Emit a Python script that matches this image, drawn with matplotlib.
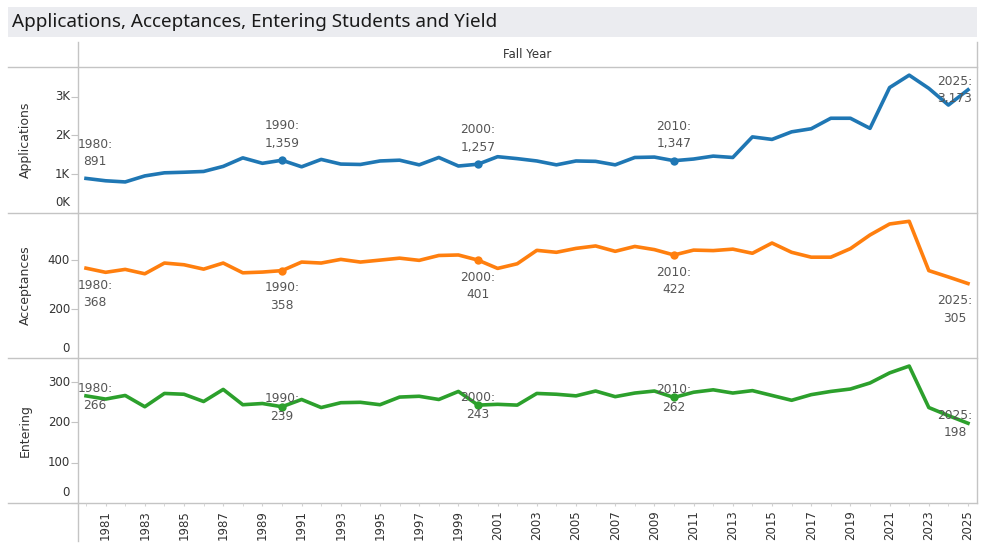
import matplotlib
matplotlib.use("Agg")
import matplotlib.pyplot as plt
from matplotlib.patches import Rectangle

plt.rcParams['font.family'] = ['DejaVu Sans']

# Fall years and the three series
years = list(range(1980, 2026))
applications = [891, 830, 800, 955, 1035, 1050, 1070, 1200, 1420, 1280,
                1359, 1190, 1380, 1260, 1250, 1340, 1360, 1240, 1430, 1210,
                1257, 1450, 1400, 1340, 1240, 1340, 1330, 1240, 1430, 1440,
                1347, 1390, 1465, 1430, 1960, 1895, 2090, 2170, 2440, 2440,
                2180, 3230, 3550, 3210, 2780, 3173]
acceptances = [368, 351, 363, 345, 389, 382, 364, 389, 349, 352,
               358, 393, 389, 404, 393, 401, 409, 400, 420, 422,
               401, 367, 386, 441, 433, 449, 459, 437, 457, 444,
               422, 442, 440, 446, 429, 471, 433, 413, 413, 448,
               504, 549, 560, 358, 332, 305]
entering = [266, 258, 267, 239, 272, 270, 252, 282, 244, 247,
            239, 257, 237, 249, 250, 244, 263, 265, 257, 277,
            243, 245, 243, 272, 270, 266, 278, 264, 273, 278,
            262, 275, 281, 273, 279, 267, 255, 269, 277, 283,
            298, 323, 340, 237, 217, 198]

labeled_years = [1980, 1990, 2000, 2010, 2025]
marker_years = [1990, 2000, 2010]
xtick_years = list(range(1981, 2026, 2))

panels = [
    dict(name="Applications", values=applications, color="#1f77b4",
         ymax=3760, ticks=[0, 1000, 2000, 3000], ticklabels=["0K", "1K", "2K", "3K"],
         top=67, bottom=213, dy=25.5),
    dict(name="Acceptances", values=acceptances, color="#ff7f0e",
         ymax=594, ticks=[0, 200, 400], ticklabels=["0", "200", "400"],
         top=213, bottom=358, dy=-26),
    dict(name="Entering", values=entering, color="#2ca02c",
         ymax=360, ticks=[0, 100, 200, 300], ticklabels=["0", "100", "200", "300"],
         top=358, bottom=503, dy=-1),
]

W, H = 981, 550
fig = plt.figure(figsize=(W / 100, H / 100), dpi=100)

# frame / header drawn in pixel space
bg = fig.add_axes([0, 0, 1, 1], zorder=0)
bg.set_xlim(0, W)
bg.set_ylim(H, 0)
bg.axis("off")
bg.add_patch(Rectangle((8, 7), 969, 30, color="#ebecf0", lw=0))
bg.text(12, 22, "Applications, Acceptances, Entering Students and Yield",
        fontsize=13.6, color="#1a1a1a", va="center", ha="left", family="Noto Sans")
bg.text(527, 55, "Fall Year", fontsize=8.5, color="#333333", ha="center", va="center")
line_col = "#c4c4c4"
bg.plot([78, 78], [42, 541], color=line_col, lw=1)
bg.plot([977, 977], [42, 503], color=line_col, lw=1)
for yy in [67, 213, 358, 503]:
    bg.plot([8, 977], [yy, yy], color=line_col, lw=1)

x0, x1 = 78, 977
px_per_year = (968 - 86) / 45
xlim = (1980 - (86 - x0) / px_per_year, 2025 + (x1 - 968) / px_per_year)

for i, p in enumerate(panels):
    ax = fig.add_axes([x0 / W, 1 - p["bottom"] / H, (x1 - x0) / W, (p["bottom"] - p["top"]) / H],
                      zorder=1)
    ax.set_facecolor("none")
    for s in ax.spines.values():
        s.set_visible(False)
    ax.plot(years, p["values"], color=p["color"], lw=2.6, solid_joinstyle="round")
    mv = [p["values"][years.index(y)] for y in marker_years]
    ax.plot(marker_years, mv, "o", color=p["color"], ms=6, mec="none")
    ax.set_xlim(*xlim)
    ax.set_ylim(0, p["ymax"])
    ax.set_yticks(p["ticks"])
    ax.tick_params(axis="y", length=5, color=line_col, labelleft=False)
    for t, lab in zip(p["ticks"], p["ticklabels"]):
        ax.annotate(lab, xy=(0, t), xycoords=("axes fraction", "data"),
                    xytext=(-8, 10 if t == 0 else 0), textcoords="offset pixels",
                    ha="right", va="center", fontsize=8.5, color="#333333")
    ax.set_xticks(xtick_years)
    ax.set_xticks(years, minor=True)
    if i == 2:
        ax.tick_params(axis="x", which="both", length=2, color="#d0d0d0", pad=3)
        ax.set_xticklabels([str(y) for y in xtick_years], rotation=90, fontsize=8.5,
                           color="#333333")
    else:
        ax.tick_params(axis="x", which="both", length=0, labelbottom=False)

    for y in labeled_years:
        v = p["values"][years.index(y)]
        dx = 9 if y == 1980 else (-13 if y == 2025 else 0)
        dy = p["dy"]
        if y == 2025 and i == 0:
            dy = 0
        ax.annotate(f"{y}:\n{v:,}", xy=(y, v), xytext=(dx, dy), textcoords="offset pixels",
                    ha="center", va="center", fontsize=8.8, color="#555555",
                    linespacing=1.45, zorder=5)

    fig.text(25 / W, 1 - (p["top"] + p["bottom"]) / 2 / H, p["name"], rotation=90,
             ha="center", va="center", fontsize=9, color="#333333")

fig.savefig("out.png", dpi=100)
